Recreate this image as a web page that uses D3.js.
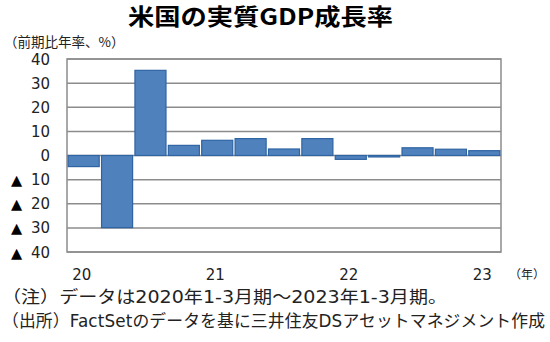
<!DOCTYPE html>
<html><head><meta charset="utf-8">
<script src="https://cdn.jsdelivr.net/npm/d3@7"></script>
<style>
html,body{margin:0;padding:0;background:#fff;}
svg{display:block;}
</style></head>
<body>
<svg id="chart" width="550" height="342"></svg>
<script>
const quarters = ["2020Q1","2020Q2","2020Q3","2020Q4","2021Q1","2021Q2","2021Q3","2021Q4","2022Q1","2022Q2","2022Q3","2022Q4","2023Q1"];
const growth = [-4.6,-29.9,35.3,4.2,6.3,7.0,2.7,7.0,-1.6,-0.6,3.2,2.6,2.0];
const yearLabels = ["20","21","22","23"];
const yearLabelQuarters = ["2020Q1","2021Q1","2022Q1","2023Q1"];
const yTicks = [40,30,20,10,0,-10,-20,-30,-40];
const title = "米国の実質GDP成長率";
const unitLabel = "（前期比年率、%）";
const xUnit = "（年）";
const notes = ["（注）データは2020年1-3月期～2023年1-3月期。","（出所）FactSetのデータを基に三井住友DSアセットマネジメント作成"];

const svg = d3.select("#chart");
const pL = 67, pR = 501, pT = 59, pB = 252;
const jp = "'Noto Sans CJK JP', 'Noto Sans', sans-serif";
const num = "'DejaVu Sans', Verdana, sans-serif";
const mixed = "'DejaVu Sans', 'Noto Sans CJK JP', sans-serif";

const x = d3.scaleBand().domain(quarters).range([pL, pR]).paddingInner(0.07).paddingOuter(0.035);
const y = d3.scaleLinear().domain([-40, 40]).range([pB, pT]);

// title
svg.append("text").attr("x", 128).attr("y", 25)
  .attr("font-family", jp).attr("font-weight", "bold").attr("font-size", 22.5).attr("fill", "#000")
  .attr("textLength", 265).attr("lengthAdjust", "spacingAndGlyphs")
  .text(title);
svg.append("text").attr("x", 4).attr("y", 47)
  .attr("font-family", jp).attr("font-size", 13.5).attr("fill", "#222").text(unitLabel);

// gridlines
svg.append("g").selectAll("line").data(yTicks).join("line")
  .attr("x1", pL).attr("x2", pR)
  .attr("y1", d => y(d)).attr("y2", d => y(d))
  .attr("stroke", "#8c8c8c").attr("stroke-width", 1.5);
// border
svg.append("rect").attr("x", pL).attr("y", pT).attr("width", pR-pL).attr("height", pB-pT)
  .attr("fill", "none").attr("stroke", "#8c8c8c").attr("stroke-width", 1.5);

// bars
svg.append("g").selectAll("rect").data(quarters).join("rect")
  .attr("x", d => x(d))
  .attr("width", x.bandwidth())
  .attr("y", (d,i) => y(Math.max(0, growth[i])))
  .attr("height", (d,i) => Math.abs(y(growth[i]) - y(0)))
  .attr("fill", "#4f81bd").attr("stroke", "#2f64a3").attr("stroke-width", 1.2);

// y labels
const yl = svg.append("g");
yTicks.forEach(t => {
  yl.append("text").attr("x", 50).attr("y", y(t) + 5.5).attr("text-anchor", "end")
    .attr("font-family", num).attr("font-size", 15).attr("fill", "#222").text(Math.abs(t));
  if (t < 0) {
    yl.append("text").attr("x", 11).attr("y", y(t) + 5.5)
      .attr("font-family", num).attr("font-size", 14.5).attr("fill", "#000").text("▲");
  }
});

// x labels
yearLabels.forEach((lab, i) => {
  svg.append("text").attr("x", x(yearLabelQuarters[i]) + x.bandwidth()/2 - 2).attr("y", 280)
    .attr("text-anchor", "middle").attr("font-family", num).attr("font-size", 15).attr("fill", "#222").text(lab);
});
svg.append("text").attr("x", 509).attr("y", 279).attr("font-family", jp).attr("font-size", 12).attr("fill", "#222").text(xUnit);

// notes
const noteLens = [445, 543];
const noteAdjust = ["spacingAndGlyphs", "spacing"];
notes.forEach((n, i) => {
  svg.append("text").attr("x", 2).attr("y", 303 + i*24).attr("font-family", mixed).attr("font-size", 16.8).attr("fill", "#222")
    .attr("textLength", noteLens[i]).attr("lengthAdjust", noteAdjust[i]).text(n);
});
</script>
</body></html>
